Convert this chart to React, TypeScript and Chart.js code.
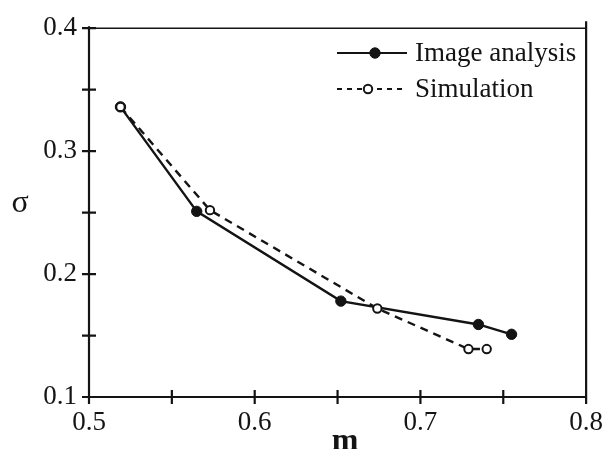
import React, { useEffect, useRef } from "react";
import { Chart, registerables } from "chart.js";

Chart.register(...registerables);

const imageM = [0.519, 0.565, 0.652, 0.735, 0.755];
const imageSigma = [0.336, 0.251, 0.178, 0.159, 0.151];
const simM = [0.519, 0.573, 0.674, 0.729, 0.74];
const simSigma = [0.336, 0.252, 0.172, 0.139, 0.139];
const seriesNames = ["Image analysis", "Simulation"];
const xTitle = "m";
const yTitle = "σ";

const INK = "#141414";
const FONT = "'Liberation Serif', 'Times New Roman', serif";

const framePlugin = {
  id: "frame",
  afterDraw(chart: any) {
    const { ctx, chartArea, scales } = chart;
    const { left, right, top, bottom } = chartArea;
    const x = scales.x;
    const y = scales.y;
    ctx.save();
    ctx.strokeStyle = INK;
    ctx.lineCap = "butt";
    ctx.lineWidth = 1.5;
    ctx.beginPath();
    ctx.moveTo(left, top);
    ctx.lineTo(right, top);
    ctx.stroke();
    ctx.lineWidth = 2.2;
    ctx.beginPath();
    ctx.moveTo(left, top - 2);
    ctx.lineTo(left, bottom + 7);
    ctx.moveTo(left, bottom);
    ctx.lineTo(right, bottom);
    ctx.moveTo(right, top - 7);
    ctx.lineTo(right, bottom + 7);
    for (const t of y.ticks) {
      const py = y.getPixelForValue(t.value);
      ctx.moveTo(left - 7, py);
      ctx.lineTo(left + 7, py);
    }
    for (const t of x.ticks) {
      const px = x.getPixelForValue(t.value);
      ctx.moveTo(px, bottom - 7);
      ctx.lineTo(px, bottom + 7);
    }
    ctx.stroke();

    ctx.fillStyle = INK;
    ctx.textAlign = "center";
    ctx.textBaseline = "middle";
    ctx.font = `32px ${FONT}`;
    ctx.fillText(yTitle, 20, 204);
    ctx.font = `bold 32px ${FONT}`;
    ctx.textBaseline = "alphabetic";
    ctx.fillText(xTitle, x.getPixelForValue(0.6545), 450);

    const ds = chart.data.datasets;
    const rows = [
      { y: 53, ds: ds[1], dash: [], markerX: 375 },
      { y: 89, ds: ds[0], dash: [5, 5], markerX: 368 },
    ];
    for (const r of rows) {
      ctx.strokeStyle = INK;
      ctx.lineWidth = 2;
      ctx.setLineDash(r.dash);
      ctx.beginPath();
      ctx.moveTo(337, r.y);
      ctx.lineTo(407, r.y);
      ctx.stroke();
      ctx.setLineDash([]);
      ctx.beginPath();
      ctx.arc(r.markerX, r.y, r.ds.pointRadius, 0, Math.PI * 2);
      ctx.fillStyle = r.ds.pointBackgroundColor;
      ctx.fill();
      ctx.lineWidth = r.ds.pointBorderWidth;
      ctx.strokeStyle = INK;
      ctx.stroke();
      ctx.fillStyle = INK;
      ctx.font = `27px ${FONT}`;
      ctx.textAlign = "left";
      ctx.textBaseline = "middle";
      ctx.fillText(r.ds.label, 415, r.y + 1);
    }
    ctx.restore();
  },
};

export default function App() {
  const ref = useRef<HTMLCanvasElement | null>(null);
  useEffect(() => {
    if (!ref.current) return;
    const tickLabel = (v: any) => {
      const n = Number(v);
      return Math.abs(n * 10 - Math.round(n * 10)) < 1e-6 ? n.toFixed(1) : "";
    };
    const chart = new Chart(ref.current, {
      type: "line",
      data: {
        datasets: [
          {
            label: seriesNames[1],
            data: simM.map((m, i) => ({ x: m, y: simSigma[i] })),
            borderColor: INK,
            borderWidth: 2.4,
            borderDash: [8, 6],
            pointRadius: 4.2,
            pointBorderWidth: 2,
            pointBackgroundColor: "#ffffff",
            pointBorderColor: INK,
            fill: false,
            tension: 0,
            order: 0,
          } as any,
          {
            label: seriesNames[0],
            data: imageM.map((m, i) => ({ x: m, y: imageSigma[i] })),
            borderColor: INK,
            borderWidth: 2.4,
            pointRadius: 5.2,
            pointBorderWidth: 1,
            pointBackgroundColor: INK,
            pointBorderColor: INK,
            fill: false,
            tension: 0,
            order: 1,
          } as any,
        ],
      },
      options: {
        responsive: false,
        animation: false,
        events: [],
        layout: { padding: { top: 25, right: 16, left: 0, bottom: 0 } },
        plugins: { legend: { display: false }, tooltip: { enabled: false } },
        scales: {
          x: {
            type: "linear",
            min: 0.5,
            max: 0.8,
            grid: { display: false, drawTicks: false },
            border: { display: false },
            ticks: {
              stepSize: 0.05,
              autoSkip: false,
              maxRotation: 0,
              padding: 10,
              color: INK,
              font: { family: FONT, size: 27 },
              callback: tickLabel,
            },
            afterFit: (s: any) => {
              s.height = 52;
            },
          },
          y: {
            type: "linear",
            min: 0.1,
            max: 0.4,
            grid: { display: false, drawTicks: false },
            border: { display: false },
            ticks: {
              stepSize: 0.05,
              autoSkip: false,
              padding: 12,
              color: INK,
              font: { family: FONT, size: 27 },
              callback: tickLabel,
            },
            afterFit: (s: any) => {
              s.width = 89;
            },
          },
        },
      },
      plugins: [framePlugin],
    });
    return () => chart.destroy();
  }, []);
  return (
    <div style={{ position: "absolute", left: 0, top: 0, width: 613, height: 449, background: "#fff" }}>
      <canvas ref={ref} width={613} height={449} style={{ display: "block" }} />
    </div>
  );
}
